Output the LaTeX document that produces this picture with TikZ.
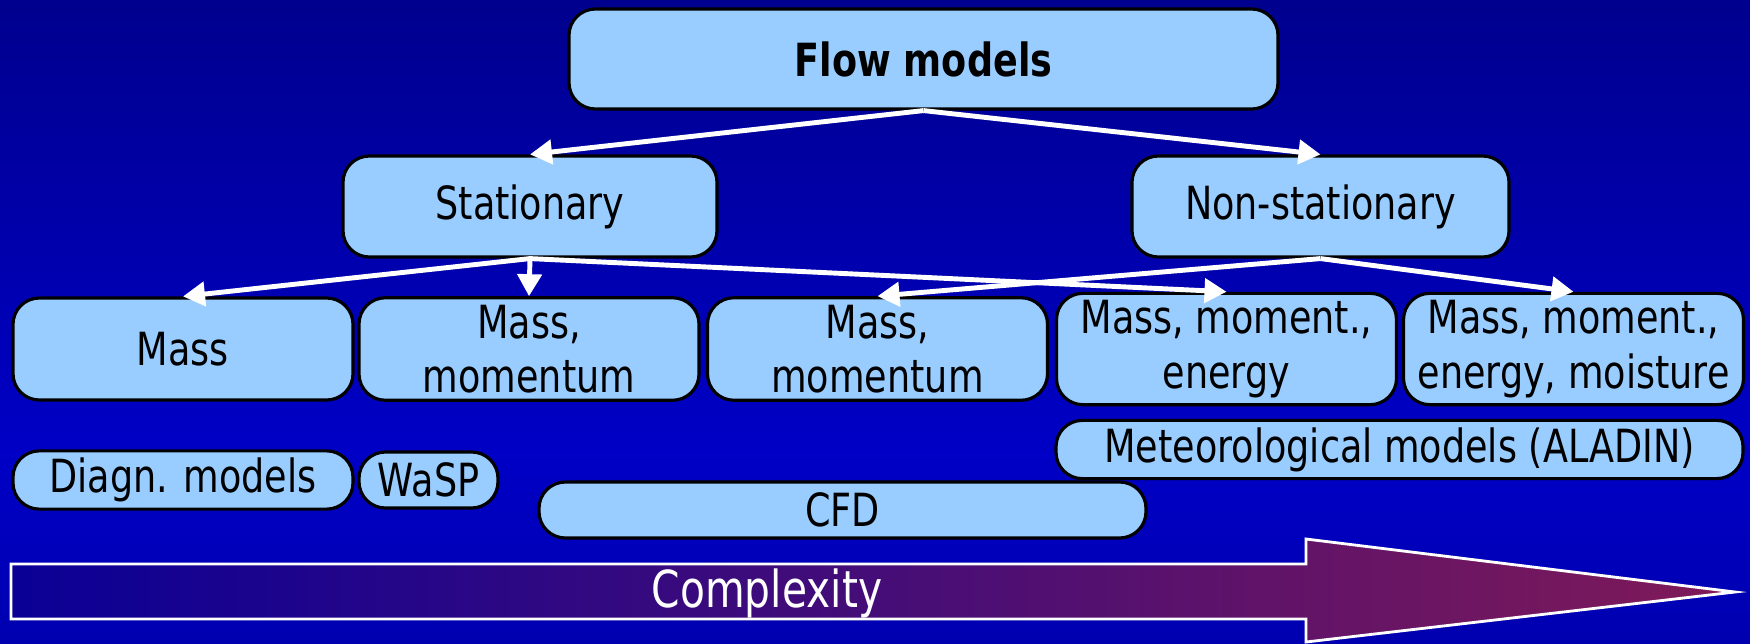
\documentclass[tikz,border=0pt]{standalone}
\usepackage{fontspec}
\setmainfont{DejaVu Sans}[FakeStretch=0.8]
\usetikzlibrary{arrows.meta}
\definecolor{BgTop}{HTML}{00008E}
\definecolor{BgMid}{HTML}{0000C6}
\definecolor{BgLow}{HTML}{0000B0}
\definecolor{BoxFill}{HTML}{99CCFF}
\definecolor{CplxLeft}{HTML}{0A0096}
\definecolor{CplxRight}{HTML}{801A58}

\begin{document}
\begin{tikzpicture}[
  x=1cm,y=1cm,
  link/.style={
    -{Triangle[length=2.2mm,width=2.4mm]},
    line width=1.4pt,
    draw=white
  },
  modelbox/.style={
    rounded corners=7.5pt,
    line width=0.9pt,
    draw=black,
    fill=BoxFill,
    align=center,
    inner sep=2pt,
    font=\fontsize{13}{15.5}\selectfont,
    text=black
  },
  rowbox/.style={
    modelbox,
    minimum width=3.40cm,
    minimum height=1.02cm
  },
  toolbox/.style={
    modelbox,
    minimum height=0.56cm
  },
  cplxlabel/.style={
    font=\fontsize{14.5}{17}\selectfont,
    text=white
  }
]

% -------------------------------------------------
% Background
% -------------------------------------------------
\useasboundingbox (0,0) rectangle (17.5,6.43);
\shade[top color=BgTop, bottom color=BgMid] (0,1.9) rectangle (17.5,6.43);
\shade[top color=BgMid, bottom color=BgLow] (0,0) rectangle (17.5,1.9);

% -------------------------------------------------
% Top levels
% -------------------------------------------------
\node[modelbox, minimum width=7.09cm, minimum height=1.00cm,
  font=\bfseries\fontsize{13}{15.5}\selectfont] (flow) at (9.235,5.84) {Flow models};

\node[modelbox, minimum width=3.74cm, minimum height=1.01cm] (stat) at (5.30,4.365) {Stationary};
\node[modelbox, minimum width=3.77cm, minimum height=1.01cm] (nonstat) at (13.205,4.365) {Non-stationary};

% -------------------------------------------------
% Equation sets
% -------------------------------------------------
\node[rowbox] (mass) at (1.83,2.94) {Mass};
\node[rowbox] (mm1) at (5.29,2.94) {Mass,\\momentum};
\node[rowbox] (mm2) at (8.775,2.94) {Mass,\\momentum};
\node[rowbox] (mme) at (12.265,2.94) {Mass, moment.,\\energy};
\node[rowbox] (mmem) at (15.735,2.94) {Mass, moment.,\\energy, moisture};

% -------------------------------------------------
% Model families
% -------------------------------------------------
\node[toolbox, minimum width=6.87cm, minimum height=0.57cm] (meteo) at (13.995,1.935) {Meteorological models (ALADIN)};
\node[toolbox, minimum width=3.40cm] (diagn) at (1.83,1.63) {Diagn. models};
\node[toolbox, minimum width=1.39cm] (wasp) at (4.285,1.63) {WaSP};
\node[toolbox, minimum width=6.07cm] (cfd) at (8.425,1.33) {CFD};

% -------------------------------------------------
% Links
% -------------------------------------------------
\draw[link] (flow.south) -- (stat.north);
\draw[link] (flow.south) -- (nonstat.north);

\draw[link] (nonstat.south) -- (mm2.north);
\draw[link] (nonstat.south) -- (mmem.north);

\draw[link] (stat.south) -- (mass.north);
\draw[link] (stat.south) -- (mm1.north);
\draw[link] (stat.south) -- (mme.north);

% -------------------------------------------------
% Complexity arrow
% -------------------------------------------------
\shadedraw[draw=white, line width=0.8pt, left color=CplxLeft, right color=CplxRight]
  (0.11,0.79) -- (13.06,0.79) -- (13.06,1.04) -- (17.35,0.51)
  -- (13.06,0.01) -- (13.06,0.24) -- (0.11,0.24) -- cycle;
\node[cplxlabel] (cplx) at (7.67,0.50) {Complexity};

\end{tikzpicture}
\end{document}
